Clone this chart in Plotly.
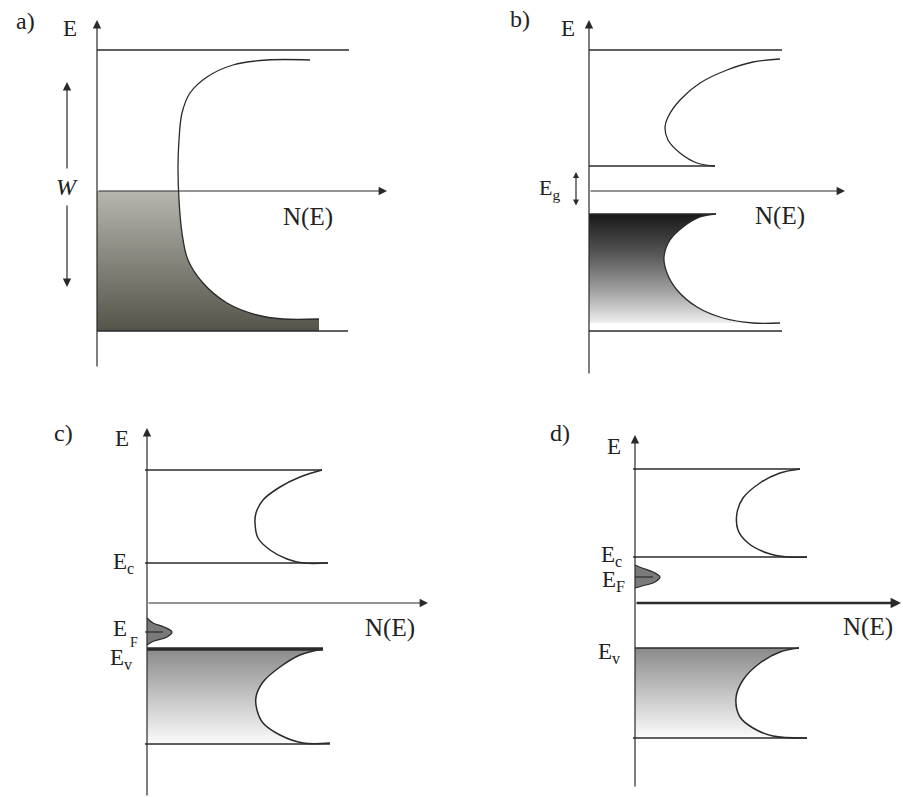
import plotly.graph_objects as go

# ---------------- data (energy E vs. density of states N(E), arbitrary units) ----------------
# a) metal
a_top_edge, a_bottom_edge, a_fermi = 2.82, -2.80, 0.0
a_dos_N = [4.26, 3.40, 2.72, 2.20, 1.86, 1.70, 1.64, 1.62, 1.64, 1.70, 1.82, 2.12, 2.60, 3.20, 3.72, 4.44]
a_dos_E = [2.62, 2.62, 2.52, 2.28, 1.96, 1.56, 1.02, 0.48, -0.18, -0.84, -1.38, -1.84, -2.24, -2.48, -2.56, -2.56]
a_fill_N = [1.63, 1.64, 1.70, 1.82, 2.12, 2.60, 3.20, 3.72, 4.44]
a_fill_E = [0.00, -0.18, -0.84, -1.38, -1.84, -2.24, -2.48, -2.56, -2.56]
a_W = [2.18, -1.92]

# b) insulator
b_top_edge, b_Ec, b_Ev, b_bottom_edge = 2.82, 0.50, -0.46, -2.80
b_cb_N = [3.82, 3.28, 2.76, 2.22, 1.82, 1.58, 1.52, 1.58, 1.82, 2.16, 2.52]
b_cb_E = [2.64, 2.58, 2.42, 2.16, 1.82, 1.48, 1.28, 1.02, 0.76, 0.56, 0.50]
b_vb_N = [2.54, 2.22, 1.88, 1.62, 1.50, 1.56, 1.76, 2.16, 2.68, 3.28, 3.82]
b_vb_E = [-0.46, -0.52, -0.72, -0.98, -1.32, -1.64, -1.98, -2.32, -2.54, -2.64, -2.64]
b_Eg = [0.38, -0.32]

# c) p-type semiconductor
c_top_edge, c_Ec, c_Ev, c_bottom_edge, c_EF = 2.66, 0.80, -0.92, -2.82, -0.58
c_cb_N = [3.50, 3.06, 2.66, 2.32, 2.18, 2.16, 2.22, 2.46, 2.80, 3.12, 3.62]
c_cb_E = [2.66, 2.52, 2.32, 2.06, 1.80, 1.60, 1.30, 1.06, 0.88, 0.80, 0.80]
c_vb_N = [3.52, 3.06, 2.66, 2.32, 2.18, 2.20, 2.32, 2.66, 3.12, 3.66]
c_vb_E = [-0.92, -1.04, -1.28, -1.58, -1.88, -2.14, -2.40, -2.64, -2.80, -2.80]
c_imp_N = [0.00, 0.12, 0.34, 0.50, 0.40, 0.14, 0.00]
c_imp_E = [-0.30, -0.40, -0.48, -0.58, -0.68, -0.76, -0.84]

# d) n-type semiconductor
d_top_edge, d_Ec, d_Ev, d_bottom_edge, d_EF = 2.68, 0.92, -0.90, -2.70, 0.52
d_cb_N = [3.30, 2.90, 2.50, 2.16, 2.04, 2.06, 2.26, 2.64, 3.04, 3.44]
d_cb_E = [2.68, 2.60, 2.40, 2.10, 1.80, 1.46, 1.20, 1.00, 0.92, 0.92]
d_vb_N = [3.28, 2.90, 2.50, 2.16, 2.02, 2.10, 2.36, 2.76, 3.44]
d_vb_E = [-0.90, -0.98, -1.20, -1.54, -1.90, -2.28, -2.50, -2.66, -2.70]
d_imp_N = [0.00, 0.14, 0.36, 0.50, 0.40, 0.14, 0.00]
d_imp_E = [0.76, 0.70, 0.62, 0.52, 0.42, 0.34, 0.30]

# ---------------- layout helpers ----------------
W, H, S = 903, 797, 50.0
origins = {1: (97, 191), 2: (589, 191), 3: (147, 603), 4: (635, 603)}
# axis extents per panel: (E top, E bottom, N tip)
axes_ext = {1: (3.42, -3.54, 5.80), 2: (3.42, -3.68, 5.12), 3: (3.50, -3.88, 5.62), 4: (3.36, -3.70, 5.32)}

LINE = "#2a2a2a"
FONT = "Liberation Serif"
fig = go.Figure()
annotations = []


def ax(n):
    return ("x" if n == 1 else f"x{n}"), ("y" if n == 1 else f"y{n}")


def line(n, xs, ys, width=1.3, shape="linear", color=LINE):
    xr, yr = ax(n)
    fig.add_trace(go.Scatter(x=xs, y=ys, mode="lines", xaxis=xr, yaxis=yr,
                             line=dict(color=color, width=width, shape=shape),
                             hoverinfo="skip", showlegend=False))


def gfill(n, xs, ys, scale, start, stop, fill="tozerox", shape="spline"):
    xr, yr = ax(n)
    fig.add_trace(go.Scatter(x=xs, y=ys, mode="lines", xaxis=xr, yaxis=yr, fill=fill,
                             line=dict(width=0, shape=shape),
                             fillgradient=dict(type="vertical", colorscale=scale, start=start, stop=stop),
                             hoverinfo="skip", showlegend=False))


def arrow(n, x0, y0, x1, y1, width=1.2, both=False, size=1.4):
    xr, yr = ax(n)
    a = dict(x=x1, y=y1, ax=x0, ay=y0, xref=xr, yref=yr, axref=xr, ayref=yr, text="",
             showarrow=True, arrowhead=2, arrowsize=size, arrowwidth=width, arrowcolor=LINE)
    if both:
        a.update(arrowside="end+start", startarrowhead=2, startarrowsize=size)
    annotations.append(a)


def label(n, x, y, text, size=23, xanchor="center"):
    xr, yr = ax(n)
    annotations.append(dict(x=x, y=y, xref=xr, yref=yr, text=text, showarrow=False,
                            xanchor=xanchor, yanchor="middle",
                            font=dict(family=FONT, size=size, color="#222")))


# ---------------- panel a ----------------
gfill(1, a_fill_N, a_fill_E, [[0, "#54544b"], [1, "#b6b6ae"]], a_bottom_edge, a_fermi)
gfill(1, [0, a_fill_N[-1], a_fill_N[-1], 0], [a_fill_E[-1], a_fill_E[-1], a_bottom_edge, a_bottom_edge],
      [[0, "#54544b"], [1, "#b6b6ae"]], a_bottom_edge, a_fermi, fill="toself", shape="linear")
line(1, [0, 5.04], [a_top_edge, a_top_edge])
line(1, [0, 5.02], [a_bottom_edge, a_bottom_edge])
line(1, a_dos_N, a_dos_E, shape="spline")
arrow(1, 0, axes_ext[1][1], 0, axes_ext[1][0])
arrow(1, 0, a_fermi, axes_ext[1][2], a_fermi)
arrow(1, -0.6, 0.42, -0.6, a_W[0])
arrow(1, -0.6, -0.26, -0.6, a_W[1])
label(1, -1.44, 3.40, "a)", 24)
label(1, -0.54, 3.26, "E")
label(1, -0.60, 0.08, "<i>W</i>", 24)
label(1, 4.22, -0.52, "N(E)", 25)

# ---------------- panel b ----------------
b_scale = [[0, "#f6f6f6"], [0.3, "#a4a4a4"], [0.65, "#555555"], [1, "#181818"]]
gfill(2, b_vb_N, b_vb_E, b_scale, -2.70, b_Ev)
line(2, [0, 3.86], [b_top_edge, b_top_edge])
line(2, [0, b_cb_N[-1]], [b_Ec, b_Ec])
line(2, [0, b_vb_N[0]], [b_Ev, b_Ev])
line(2, [0, 3.86], [b_bottom_edge, b_bottom_edge])
line(2, b_cb_N, b_cb_E, shape="spline")
line(2, b_vb_N, b_vb_E, shape="spline")
arrow(2, 0, axes_ext[2][1], 0, axes_ext[2][0])
arrow(2, 0, 0, axes_ext[2][2], 0)
arrow(2, -0.26, b_Eg[1], -0.26, b_Eg[0], both=True, size=1.0)
label(2, -1.38, 3.44, "b)", 24)
label(2, -0.42, 3.26, "E")
label(2, -0.80, 0.04, "E<sub>g</sub>", 22)
label(2, 3.82, -0.50, "N(E)", 25)

# ---------------- panel c ----------------
cd_scale = [[0, "#fbfbfb"], [0.5, "#c4c4c4"], [1, "#8a8a8a"]]
gfill(3, c_vb_N, c_vb_E, cd_scale, c_bottom_edge, c_Ev)
gfill(3, c_imp_N, c_imp_E, [[0, "#7a7a7a"], [1, "#7a7a7a"]], c_imp_E[-1], c_imp_E[0])
line(3, c_imp_N, c_imp_E, width=1.2, shape="spline")
line(3, [-0.04, 0.32], [c_EF, c_EF], width=1.2)
line(3, [-0.04, 3.50], [c_top_edge, c_top_edge])
line(3, [-0.04, c_cb_N[-1]], [c_Ec, c_Ec], width=1.5)
line(3, [0, c_vb_N[0]], [c_Ev, c_Ev], width=3.5)
line(3, [-0.04, c_vb_N[-1]], [c_bottom_edge, c_bottom_edge], width=1.5)
line(3, c_cb_N, c_cb_E, shape="spline", width=1.5)
line(3, c_vb_N, c_vb_E, shape="spline", width=1.5)
arrow(3, 0, axes_ext[3][1], 0, axes_ext[3][0])
arrow(3, 0, 0, axes_ext[3][2], 0)
label(3, -1.68, 3.40, "c)", 24)
label(3, -0.50, 3.30, "E")
label(3, -0.48, 0.80, "E<sub>c</sub>")
label(3, -0.54, -0.50, "E")
label(3, -0.26, -0.78, "F", 14)
label(3, -0.52, -1.12, "E<sub>v</sub>")
label(3, 4.86, -0.50, "N(E)", 25)

# ---------------- panel d ----------------
gfill(4, d_vb_N, d_vb_E, cd_scale, d_bottom_edge, d_Ev)
gfill(4, d_imp_N, d_imp_E, [[0, "#7a7a7a"], [1, "#7a7a7a"]], d_imp_E[-1], d_imp_E[0])
line(4, d_imp_N, d_imp_E, width=1.2, shape="spline")
line(4, [0, 0.36], [d_EF, d_EF], width=1.2)
line(4, [-0.04, 3.30], [d_top_edge, d_top_edge])
line(4, [-0.04, d_cb_N[-1]], [d_Ec, d_Ec], width=1.5)
line(4, [0, d_vb_N[0]], [d_Ev, d_Ev], width=1.5)
line(4, [-0.04, d_vb_N[-1]], [d_bottom_edge, d_bottom_edge], width=1.5)
line(4, d_cb_N, d_cb_E, shape="spline", width=1.5)
line(4, d_vb_N, d_vb_E, shape="spline", width=1.5)
arrow(4, 0, axes_ext[4][1], 0, axes_ext[4][0])
arrow(4, 0, 0, axes_ext[4][2], 0, width=2.6, size=0.8)
label(4, -1.50, 3.40, "d)", 24)
label(4, -0.42, 3.14, "E")
label(4, -0.48, 0.94, "E<sub>c</sub>")
label(4, -0.44, 0.44, "E<sub>F</sub>")
label(4, -0.52, -1.00, "E<sub>v</sub>")
label(4, 4.66, -0.48, "N(E)", 25)

# ---------------- axes (invisible, each panel in its own data frame) ----------------
layout_axes = {}
for n, (ox, oy) in origins.items():
    xr, yr = ax(n)
    xk = "xaxis" if n == 1 else f"xaxis{n}"
    yk = "yaxis" if n == 1 else f"yaxis{n}"
    layout_axes[xk] = dict(range=[-ox / S, (W - ox) / S], domain=[0, 1], visible=False,
                           fixedrange=True, anchor=yr)
    layout_axes[yk] = dict(range=[(oy - H) / S, oy / S], domain=[0, 1], visible=False,
                           fixedrange=True, anchor=xr)

fig.update_layout(width=W, height=H, margin=dict(l=0, r=0, t=0, b=0),
                  paper_bgcolor="white", plot_bgcolor="rgba(0,0,0,0)",
                  showlegend=False, annotations=annotations, **layout_axes)
fig.write_html("out.html", config={"displayModeBar": False},
               post_script="document.body.style.margin='0';document.body.style.overflow='hidden';")
